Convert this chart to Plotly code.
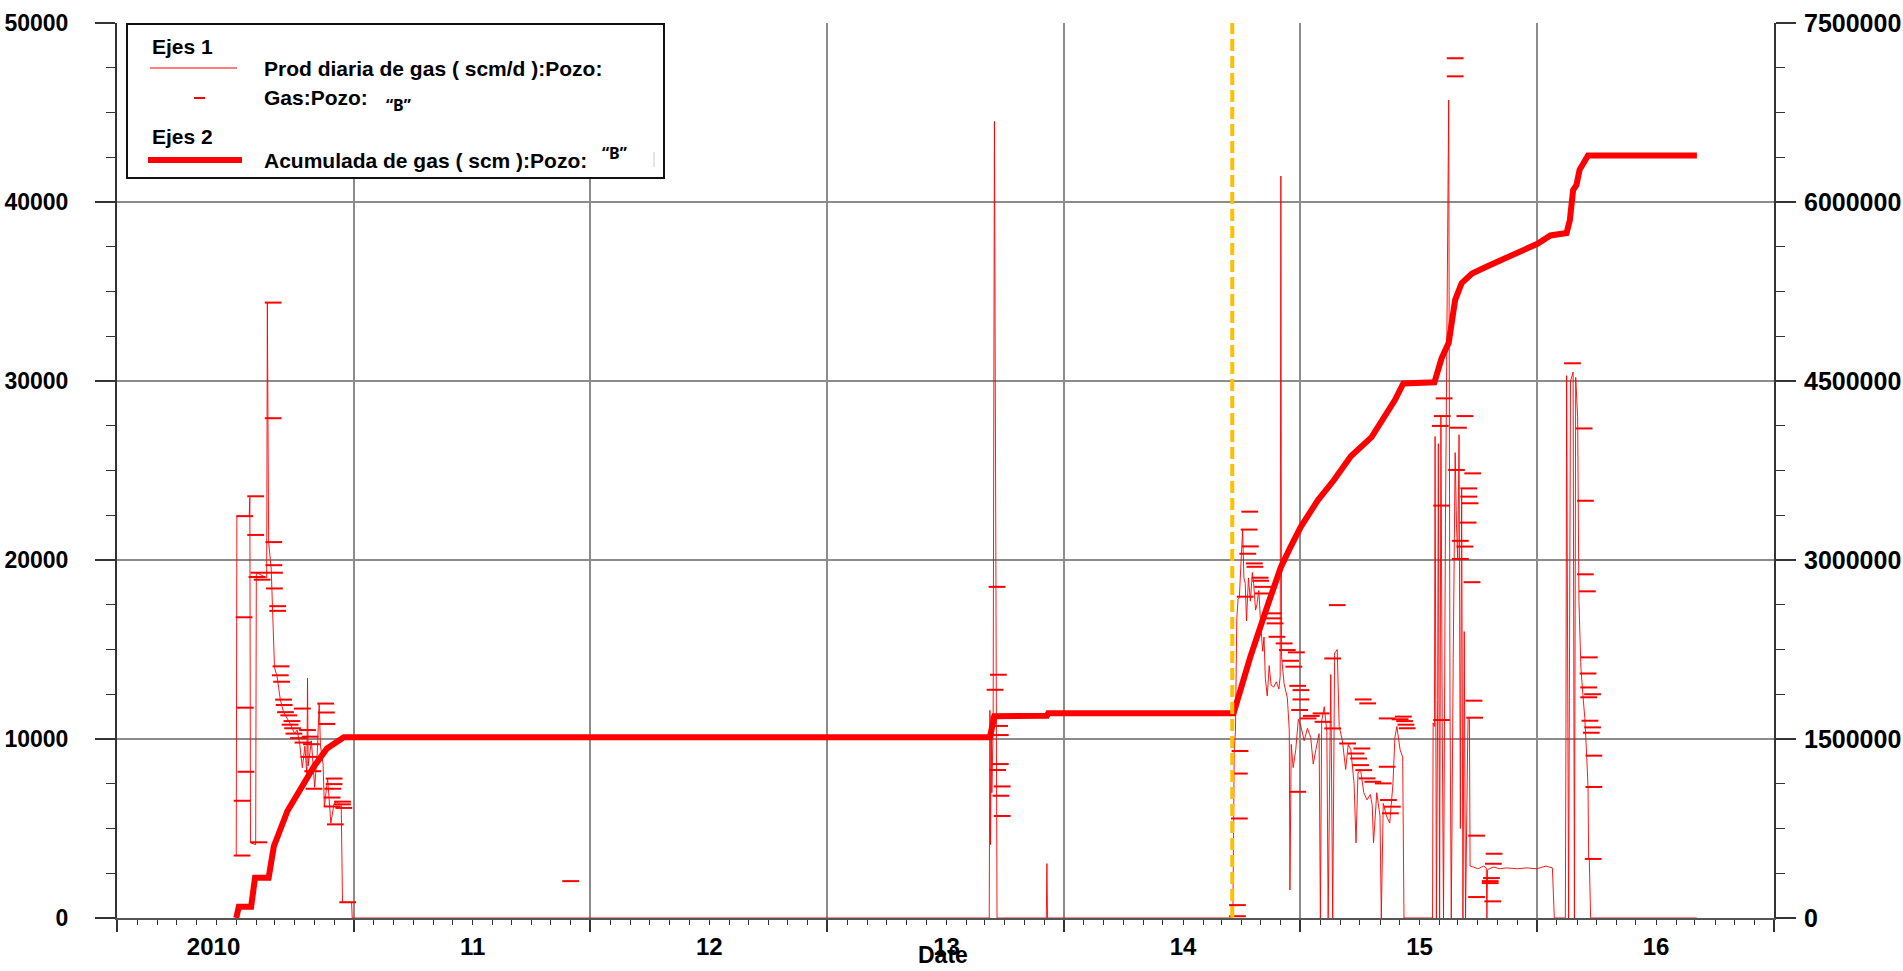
import plotly.graph_objects as go

# ---------------- data ----------------
# Daily gas production (scm/d), thin line, left axis
prod_dates = [
    "2010-01-01", "2010-01-02", "2010-01-21", "2010-01-22", "2010-01-23", "2010-01-31",
    "2010-02-01", "2010-02-17", "2010-02-18", "2010-02-20", "2010-02-24", "2010-02-26",
    "2010-03-01", "2010-03-05", "2010-03-10", "2010-03-15", "2010-03-20", "2010-03-26",
    "2010-04-01", "2010-04-05", "2010-04-09", "2010-04-13", "2010-04-17", "2010-04-20",
    "2010-04-21", "2010-04-22", "2010-04-27", "2010-05-02", "2010-05-06", "2010-05-09",
    "2010-05-11", "2010-05-15", "2010-05-17", "2010-05-22", "2010-05-27", "2010-06-01",
    "2010-06-05", "2010-06-12", "2010-06-14", "2010-06-28", "2010-06-29",
    "2013-03-08", "2013-03-09", "2013-03-10", "2013-03-11", "2013-03-12", "2013-03-14",
    "2013-03-16", "2013-03-20", "2013-06-04", "2013-06-05", "2013-06-06",
    "2014-03-19", "2014-03-21", "2014-03-23", "2014-03-24", "2014-03-25", "2014-03-27",
    "2014-03-29", "2014-03-31", "2014-04-03", "2014-04-05", "2014-04-07", "2014-04-09",
    "2014-04-12", "2014-04-15", "2014-04-18", "2014-04-20", "2014-04-23", "2014-04-25",
    "2014-04-28", "2014-05-01", "2014-05-04", "2014-05-06", "2014-05-08", "2014-05-11",
    "2014-05-14", "2014-05-17", "2014-05-21", "2014-05-25", "2014-05-29", "2014-05-31",
    "2014-06-01", "2014-06-02", "2014-06-06", "2014-06-11", "2014-06-14", "2014-06-15",
    "2014-06-17", "2014-06-20", "2014-06-24", "2014-06-28", "2014-07-02", "2014-07-07",
    "2014-07-12", "2014-07-17", "2014-07-21", "2014-07-25", "2014-07-30", "2014-08-01",
    "2014-08-03", "2014-08-07", "2014-08-11", "2014-08-13", "2014-08-17", "2014-08-20",
    "2014-08-23", "2014-08-27", "2014-08-30", "2014-09-04", "2014-09-09", "2014-09-13",
    "2014-09-17", "2014-09-22", "2014-09-25", "2014-09-28", "2014-10-02", "2014-10-07",
    "2014-10-12", "2014-10-17", "2014-10-20", "2014-10-22", "2014-10-27", "2014-11-01",
    "2014-11-03", "2014-11-06", "2014-11-11", "2014-11-16", "2014-11-21", "2014-11-24",
    "2014-11-27", "2014-12-02", "2014-12-06", "2014-12-08",
    "2015-01-21", "2015-01-22", "2015-01-24", "2015-01-25", "2015-01-27", "2015-01-29",
    "2015-01-30", "2015-02-01", "2015-02-03", "2015-02-05", "2015-02-07", "2015-02-10",
    "2015-02-15", "2015-02-17", "2015-02-19", "2015-02-22", "2015-02-25", "2015-02-27",
    "2015-03-01", "2015-03-03", "2015-03-05", "2015-03-07", "2015-03-09", "2015-03-11",
    "2015-03-13", "2015-03-16", "2015-03-17", "2015-03-19", "2015-03-20", "2015-03-25",
    "2015-04-01", "2015-04-10", "2015-04-14", "2015-04-15", "2015-04-16", "2015-04-25",
    "2015-05-05", "2015-05-15", "2015-06-01", "2015-06-15", "2015-07-01", "2015-07-15",
    "2015-07-25", "2015-07-28", "2015-08-14", "2015-08-15", "2015-08-16", "2015-08-19",
    "2015-08-22", "2015-08-26", "2015-08-28", "2015-08-30", "2015-09-02", "2015-09-04",
    "2015-09-07", "2015-09-10", "2015-09-13", "2015-09-16", "2015-09-18", "2015-09-19",
    "2015-09-20", "2015-09-22", "2016-03-04",
]
prod_vals = [
    3500, 22450, 22450, 23500, 4200, 4100,
    19300, 19000, 34400, 21000, 19500, 17400,
    14000, 13500, 12200, 11500, 11200, 10800,
    10300, 10500, 9700, 8400, 9600, 8000,
    13400, 8500, 9900, 7300, 9200, 12000,
    9600, 8600, 6200, 7800, 5300, 6400,
    6500, 6300, 880, 880, 0,
    0, 11600, 4100, 11300, 7000, 10700,
    44500, 0, 0, 3040, 0,
    0, 9300, 10500, 13700, 16700, 17800,
    17900, 19500, 21700, 19000, 18700, 16600,
    19000, 17700, 19300, 18700, 17200, 17500,
    18300, 16300, 14900, 15700, 13400, 12400,
    14100, 13000, 12900, 13200, 12800, 13500,
    41450, 14600, 13100, 12300, 10500, 1560,
    9700, 8400, 9400, 11100, 10700, 9900,
    10600, 10100, 8600, 9400, 10300, 0,
    11000, 11800, 10400, 0, 13600, 0,
    14800, 15000, 10700, 9900, 8300, 9700,
    9400, 7500, 4200, 8100, 8300, 7000,
    6600, 6900, 6300, 4200, 7000, 5700,
    0, 6400, 5700, 5300, 7500, 10100,
    10700, 9400, 9000, 0,
    0, 10900, 10700, 26900, 0, 12200,
    26500, 0, 28000, 11100, 0, 22000,
    45700, 12000, 0, 14500, 26000, 22000,
    20000, 27000, 5000, 24000, 0, 16000,
    0, 9000, 11200, 11100, 2900, 2850,
    2750, 2900, 2800, 0, 2700, 2850,
    2750, 2800, 2750, 2800, 2750, 2900,
    2800, 0, 0, 10800, 30300, 0,
    30000, 30500, 0, 30200, 28000, 17700,
    14000, 12500, 11200, 9000, 7300, 3300,
    3300, 0, 0,
]

# Gas:Pozo "B" (scm/d), short horizontal dash markers, left axis
gas_dates = [
    "2010-01-10", "2010-01-10", "2010-01-16", "2010-01-15", "2010-01-13", "2010-01-14",
    "2010-01-31", "2010-01-31", "2010-02-05", "2010-02-05", "2010-02-02", "2010-02-10",
    "2010-02-27", "2010-02-27", "2010-02-28", "2010-02-28", "2010-03-01", "2010-03-01",
    "2010-03-06", "2010-03-06", "2010-03-11", "2010-03-10", "2010-03-12", "2010-03-15",
    "2010-03-16", "2010-03-18", "2010-03-23", "2010-03-25", "2010-03-28", "2010-03-29",
    "2010-03-31", "2010-04-13", "2010-04-07", "2010-04-14", "2010-04-21", "2010-04-25",
    "2010-04-27", "2010-04-23", "2010-04-29", "2010-05-01", "2010-05-19", "2010-05-20",
    "2010-05-21", "2010-06-01", "2010-06-01", "2010-05-30", "2010-05-29", "2010-05-29",
    "2010-06-14", "2010-06-14", "2010-06-16", "2010-06-03", "2010-06-22", "2011-06-01",
    "2013-03-20", "2013-03-22", "2013-03-17", "2013-03-24", "2013-03-25", "2013-03-25",
    "2013-03-21", "2013-03-28", "2013-03-26", "2013-03-28",
    "2014-03-26", "2014-03-26", "2014-03-29", "2014-03-29", "2014-03-30", "2014-04-14",
    "2014-04-13", "2014-04-15", "2014-04-11", "2014-04-21", "2014-04-22", "2014-04-30",
    "2014-05-01", "2014-05-04", "2014-05-05", "2014-04-07", "2014-08-27", "2014-05-20",
    "2014-05-21", "2014-05-23", "2014-05-26", "2014-06-06", "2014-06-11", "2014-06-25",
    "2014-08-20", "2014-06-16", "2014-06-21", "2014-06-27", "2014-07-02", "2014-07-02",
    "2014-10-06", "2014-10-13", "2014-06-30", "2014-08-02", "2014-07-18", "2014-07-13",
    "2014-11-12", "2014-08-05", "2014-08-20", "2014-09-12", "2014-10-04", "2014-09-25",
    "2014-09-29", "2014-10-02", "2014-11-12", "2014-10-07", "2014-10-12", "2014-10-21",
    "2014-11-06", "2014-06-27", "2014-11-14", "2014-11-20", "2014-11-17", "2014-12-07",
    "2014-12-09", "2014-12-11", "2014-12-13", "2014-12-02",
    "2015-02-25", "2015-02-25", "2015-02-08", "2015-02-05", "2015-03-12", "2015-02-02",
    "2015-03-02", "2015-02-27", "2015-03-24", "2015-03-18", "2015-03-18", "2015-03-20",
    "2015-02-04", "2015-03-17", "2015-03-05", "2015-03-12", "2015-03-05", "2015-03-23",
    "2015-03-26", "2015-03-27", "2015-02-04", "2015-03-30", "2015-04-26", "2015-04-25",
    "2015-04-22", "2015-04-20", "2015-04-20", "2015-03-30", "2015-04-24",
    "2015-08-25", "2015-09-12", "2015-09-14", "2015-09-14", "2015-09-17", "2015-09-20",
    "2015-09-18", "2015-09-19", "2015-09-25", "2015-09-19", "2015-09-21", "2015-09-25",
    "2015-09-23", "2015-09-27", "2015-09-27", "2015-09-26",
]
gas_vals = [
    3490, 6550, 8170, 11750, 16800, 22450,
    23560, 21400, 4230, 19290, 19050, 18900,
    34380, 27920, 21000, 19710, 19290, 18410,
    17420, 17160, 14060, 13560, 13200, 12200,
    11900, 11500, 11320, 10800, 11000, 10600,
    10300, 11700, 10050, 9800, 10500, 10130,
    9710, 9000, 8200, 7220, 11980, 11480,
    10840, 7790, 7480, 7220, 6730, 6230,
    6500, 6350, 6150, 5230, 880, 2060,
    18500, 13590, 12750, 10730, 10220, 8600,
    8270, 7350, 6830, 5700,
    720, 100, 5560, 8070, 9330, 22700,
    21700, 20760, 20350, 19810, 19620, 19010,
    18840, 18500, 18130, 17950, 17480, 17020,
    16740, 16460, 15710, 15340, 14970, 14840,
    14500, 14370, 14040, 12970, 12730, 12210,
    12210, 11990, 11620, 11430, 11290, 11150,
    11150, 10960, 10590, 9750, 9470, 9190,
    8910, 8540, 8450, 8260, 7800, 7610,
    7520, 7050, 6590, 6220, 5850, 11250,
    11000, 10800, 10600, 11100,
    48030, 47020, 29030, 28040, 28040, 27490,
    27390, 25030, 24840, 24000, 23540, 23170,
    23040, 22090, 21070, 20750, 20060, 18760,
    12140, 11190, 11060, 4600, 3590, 3030,
    2230, 2060, 1950, 1170, 930,
    30990, 27350, 23310, 19200, 18250, 14560,
    13660, 12880, 12500, 12330, 11020, 10650,
    10350, 9070, 7320, 3300,
]

# Cumulative gas (scm), thick line, right axis
cum_dates = [
    "2010-01-01", "2010-01-05", "2010-01-24", "2010-01-30", "2010-02-20", "2010-02-28",
    "2010-03-21", "2010-04-10", "2010-05-01", "2010-05-21", "2010-06-11", "2010-06-16",
    "2013-03-09", "2013-03-16", "2013-06-05", "2013-06-07", "2014-03-20", "2014-04-15",
    "2014-05-11", "2014-06-01", "2014-06-16", "2014-07-02", "2014-07-28", "2014-08-22",
    "2014-09-17", "2014-10-19", "2014-11-24", "2014-12-07", "2015-01-24", "2015-02-04",
    "2015-02-15", "2015-02-18", "2015-02-25", "2015-03-07", "2015-03-23", "2015-04-15",
    "2015-05-06", "2015-07-02", "2015-07-22", "2015-08-16", "2015-08-21", "2015-08-26",
    "2015-08-31", "2015-09-05", "2015-09-18", "2016-03-04",
]
cum_vals = [
    0, 95000, 95000, 337000, 337000, 600000,
    897000, 1083000, 1270000, 1420000, 1500000, 1515000,
    1515000, 1690000, 1695000, 1716000, 1716000, 2190000,
    2610000, 2940000, 3110000, 3280000, 3500000, 3670000,
    3870000, 4030000, 4340000, 4480000, 4489000, 4690000,
    4820000, 4950000, 5180000, 5320000, 5400000, 5460000,
    5510000, 5650000, 5720000, 5740000, 5850000, 6100000,
    6140000, 6270000, 6390000, 6390000,
]

# Vertical reference date (orange dashed line)
marker_date = "2014-03-18"

# Axes
x_range = ["2009-07-01", "2016-07-01"]
grid_dates = ["2009-07-01", "2010-07-01", "2011-07-01", "2012-07-01", "2013-07-01",
              "2014-07-01", "2015-07-01", "2016-07-01"]
year_label_dates = ["2009-11-27", "2011-01-01", "2012-01-01", "2013-01-01",
                    "2014-01-01", "2015-01-01", "2016-01-01"]
year_labels = ["2010", "11", "12", "13", "14", "15", "16"]
left_ticks = [0, 10000, 20000, 30000, 40000, 50000]
right_ticks = [0, 1500000, 3000000, 4500000, 6000000, 7500000]

# ---------------- figure ----------------
FONT = "Liberation Sans, Arial, sans-serif"
RED = "#ff0000"
GRID = "#8c8c8c"
AX = "#333333"

fig = go.Figure()
fig.add_trace(go.Scatter(
    x=prod_dates, y=prod_vals, mode="lines",
    line=dict(color="rgba(255,0,0,0.9)", width=1),
    name="Prod diaria de gas ( scm/d ):Pozo:", xaxis="x", yaxis="y",
))
fig.add_trace(go.Scatter(
    x=gas_dates, y=gas_vals, mode="markers",
    marker=dict(symbol="line-ew", size=12, color=RED, line=dict(color=RED, width=2)),
    name="Gas:Pozo: “B”", xaxis="x", yaxis="y",
))
fig.add_trace(go.Scatter(
    x=cum_dates, y=cum_vals, mode="lines",
    line=dict(color=RED, width=6),
    name="Acumulada de gas ( scm ):Pozo: “B”", xaxis="x", yaxis="y2",
))
fig.add_trace(go.Scatter(
    x=[marker_date, marker_date], y=[left_ticks[0], left_ticks[-1]], mode="lines",
    line=dict(color="#ffc000", width=4, dash="12px,5px"),
    xaxis="x2", yaxis="y", hoverinfo="skip",
))

fig.update_layout(
    width=1903, height=971,
    margin=dict(l=117, r=129, t=23, b=53, pad=0, autoexpand=False),
    paper_bgcolor="white", plot_bgcolor="white",
    showlegend=False,
    xaxis=dict(
        type="date", range=x_range, tickmode="array", tickvals=grid_dates,
        ticktext=[""] * len(grid_dates), automargin=False,
        showgrid=True, gridcolor=GRID, gridwidth=1.5,
        ticks="outside", ticklen=12, tickwidth=1.5, tickcolor=AX,
        showline=True, linecolor="#555555", linewidth=2, zeroline=False,
        minor=dict(tickmode="linear", tick0="2009-07-01", dtick="M1",
                   ticks="outside", ticklen=5, tickwidth=1, tickcolor=AX, showgrid=False),
    ),
    xaxis2=dict(
        type="date", range=x_range, overlaying="x", side="bottom", automargin=False,
        tickmode="array", tickvals=year_label_dates, ticktext=year_labels,
        showgrid=False, showline=False, ticks="", zeroline=False,
        ticklabelstandoff=12,
        tickfont=dict(family=FONT, size=24, color="black", weight=700),
    ),
    yaxis=dict(
        range=[left_ticks[0], left_ticks[-1]], tickmode="array", tickvals=left_ticks,
        tickformat="d", automargin=False,
        showgrid=True, gridcolor=GRID, gridwidth=1.5, zeroline=False,
        ticks="outside", ticklen=20, tickwidth=1.5, tickcolor=AX,
        showline=True, linecolor=AX, linewidth=2,
        tickfont=dict(family=FONT, size=23, color="black", weight=700),
        ticklabelstandoff=22,
        minor=dict(dtick=2500, ticks="outside", ticklen=9, tickwidth=1,
                   tickcolor=AX, showgrid=False),
    ),
    yaxis2=dict(
        range=[right_ticks[0], right_ticks[-1]], overlaying="y", side="right",
        tickmode="array", tickvals=right_ticks, tickformat="d", automargin=False,
        showgrid=False, zeroline=False,
        ticks="outside", ticklen=20, tickwidth=1.5, tickcolor=AX,
        showline=True, linecolor=AX, linewidth=2,
        tickfont=dict(family=FONT, size=25, color="black", weight=700),
        ticklabelstandoff=3,
        minor=dict(dtick=375000, ticks="outside", ticklen=9, tickwidth=1,
                   tickcolor=AX, showgrid=False),
    ),
)

# ---- legend box drawn as in the original (paper coordinates) ----
def px_x(p):
    return (p - 117) / 1657.0

def px_y(p):
    return (918 - p) / 895.0

shapes = [
    dict(type="rect", xref="paper", yref="paper", x0=px_x(127), x1=px_x(664),
         y0=px_y(178), y1=px_y(24), line=dict(color="#111111", width=2),
         fillcolor="white", layer="above"),
    dict(type="line", xref="paper", yref="paper", x0=px_x(150), x1=px_x(237),
         y0=px_y(68), y1=px_y(68), line=dict(color=RED, width=1), layer="above"),
    dict(type="line", xref="paper", yref="paper", x0=px_x(194), x1=px_x(205),
         y0=px_y(98), y1=px_y(98), line=dict(color=RED, width=2), layer="above"),
    dict(type="line", xref="paper", yref="paper", x0=px_x(148), x1=px_x(242),
         y0=px_y(160), y1=px_y(160), line=dict(color=RED, width=6), layer="above"),
    dict(type="line", xref="paper", yref="paper", x0=px_x(654), x1=px_x(654),
         y0=px_y(167), y1=px_y(152), line=dict(color="#c8c8c8", width=1), layer="above"),
]
fig.update_layout(shapes=shapes)

LEG = dict(family=FONT, size=21, color="black", weight=700)
BFONT = dict(family="Noto Sans, Liberation Sans, sans-serif", size=16, color="black", weight=700)
annots = [
    (150, 46, "Ejes 1", LEG),
    (262, 68, "Prod diaria de gas ( scm/d ):Pozo:", LEG),
    (262, 98, "Gas:Pozo:", LEG),
    (384, 105, "“B”", BFONT),
    (150, 136, "Ejes 2", LEG),
    (262, 160, "Acumulada de gas ( scm ):Pozo:", LEG),
    (600, 153, "“B”", BFONT),
]
for xp, yp, txt, f in annots:
    fig.add_annotation(xref="paper", yref="paper", x=px_x(xp), y=px_y(yp),
                       xanchor="left", yanchor="middle", text=txt, showarrow=False,
                       font=f)

fig.add_annotation(xref="paper", yref="paper", x=px_x(943), y=px_y(955),
                   xanchor="center", yanchor="middle", text="Date", showarrow=False,
                   font=dict(family=FONT, size=23, color="black", weight=700))

fig.write_html("out.html", config={"displayModeBar": False},
               post_script="document.body.style.margin='0';document.body.style.overflow='hidden';")
